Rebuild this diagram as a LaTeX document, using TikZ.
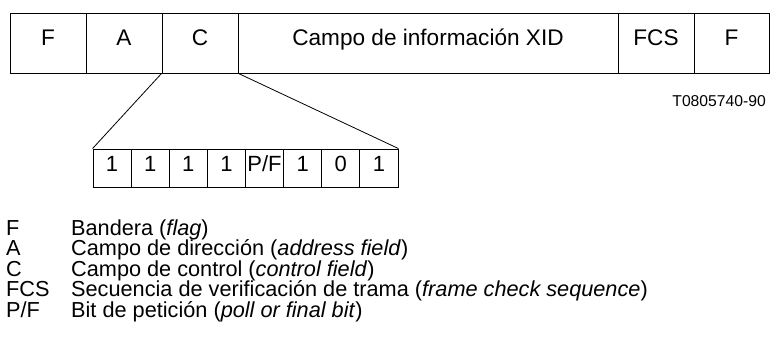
\documentclass[tikz,border=0pt]{standalone}
\usepackage{fontspec}
\setmainfont{Liberation Sans}
\begin{document}
\begin{tikzpicture}[x=1pt,y=-1pt,
  field/.style={draw, line width=0.9pt, minimum height=60pt, inner sep=0pt, anchor=center,
     font=\fontsize{22.6}{26}\selectfont, text height=0.72em, text depth=0.24em},
  bit/.style={draw, line width=0.9pt, minimum width=38.125pt, minimum height=38.5pt, inner sep=0pt,
     font=\fontsize{22}{25}\selectfont, text height=0.72em, text depth=0.14em},
  key/.style={anchor=base west, inner sep=0pt, font=\fontsize{21.7}{25}\selectfont},
  link/.style={line width=0.8pt}]
\useasboundingbox (0,0) rectangle (770,338);
% top frame
\node[field, minimum width=76pt] (f1) at (48,43) {F};
\node[field, minimum width=76pt] (a) at (124,43) {A};
\node[field, minimum width=76pt] (c) at (200,43) {C};
\node[field, minimum width=380pt] (info) at (428,43) {Campo de información XID};
\node[field, minimum width=76pt] (fcs) at (656,43) {FCS};
\node[field, minimum width=75pt] (f2) at (731.5,43) {F};
\node[anchor=base east, inner sep=0pt, font=\fontsize{15.7}{18}\selectfont] (ref) at (766,106) {T0805740-90};
% control bits
\foreach \i/\t in {1/1,2/1,3/1,4/1,5/{P/F},6/1,7/0,8/1}{
  \node[bit] (b\i) at ({93+38.125*(\i-0.5)},168.25) {\t};
}
\draw[link] (c.south west) -- (b1.north west);
\draw[link] (c.south east) -- (b8.north east);
% legend
\node[key] (k1) at (6,235) {F};
\node[key] (d1) at (71,235) {Bandera (\textit{flag})};
\node[key] (k2) at (6,255.6) {A};
\node[key] (d2) at (71,255.6) {Campo de dirección (\textit{address field})};
\node[key] (k3) at (6,276.2) {C};
\node[key] (d3) at (71,276.2) {Campo de control (\textit{control field})};
\node[key] (k4) at (6,296.8) {FCS};
\node[key] (d4) at (71,296.8) {Secuencia de verificación de trama (\textit{frame check sequence})};
\node[key] (k5) at (6,317.4) {P/F};
\node[key] (d5) at (71,317.4) {Bit de petición (\textit{poll or final bit})};
\end{tikzpicture}
\end{document}
